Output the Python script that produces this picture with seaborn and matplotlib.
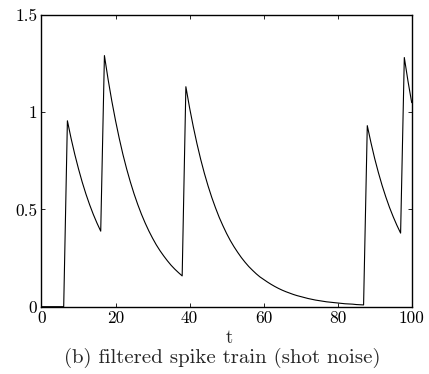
import numpy as np
import pandas as pd
import seaborn as sns
import matplotlib.pyplot as plt

t = list(range(0, 101))
y = [0, 0, 0, 0, 0, 0, 0,
     0.955, 0.864, 0.782, 0.708, 0.640, 0.579, 0.524, 0.474, 0.429, 0.388,
     1.290, 1.167, 1.056, 0.956, 0.865, 0.782, 0.708, 0.641, 0.580, 0.525,
     0.475, 0.430, 0.389, 0.352, 0.318, 0.288, 0.261, 0.236, 0.213, 0.193,
     0.175, 0.158,
     1.130, 1.022, 0.925, 0.837, 0.757, 0.685, 0.620, 0.561, 0.508, 0.459,
     0.416, 0.376, 0.340, 0.308, 0.279, 0.252, 0.228, 0.206, 0.187, 0.169,
     0.153, 0.140, 0.127, 0.115, 0.104, 0.094, 0.085, 0.077, 0.070, 0.063,
     0.057, 0.052, 0.047, 0.042, 0.038, 0.034, 0.031, 0.028, 0.025, 0.023,
     0.021, 0.019, 0.017, 0.015, 0.014, 0.013, 0.011, 0.010, 0.009,
     0.930, 0.842, 0.761, 0.689, 0.623, 0.564, 0.510, 0.462, 0.418, 0.378,
     1.280, 1.158, 1.048]

xticks = [0, 20, 40, 60, 80, 100]
yticks = [0, 0.5, 1, 1.5]
ytick_labels = ["0", "0.5", "1", "1.5"]

df = pd.DataFrame({"t": t, "y": y})

sns.set_style("ticks")
plt.rcParams["font.family"] = ["cmr10", "DejaVu Serif"]
plt.rcParams["mathtext.fontset"] = "cm"
plt.rcParams["axes.formatter.use_mathtext"] = True
plt.rcParams["axes.unicode_minus"] = False

fig = plt.figure(figsize=(4.29, 3.74), dpi=100)
ax = fig.add_axes([0.0967, 0.180, 0.863, 0.7807])

sns.lineplot(data=df, x="t", y="y", ax=ax, color="black", linewidth=0.8)

ax.set_xlim(0, 100)
ax.set_ylim(0, 1.5)
ax.set_xticks(xticks)
ax.set_xticklabels([str(v) for v in xticks])
ax.set_yticks(yticks)
ax.set_yticklabels(ytick_labels)
ax.tick_params(direction="in", top=True, right=True, length=3, width=0.6,
               labelsize=12.5, pad=3, colors="black")
for s in ax.spines.values():
    s.set_visible(True)
    s.set_linewidth(1.0)
    s.set_color("black")

ax.set_xlabel("")
ax.set_ylabel("")
fig.text(0.534, 1 - 338 / 374, "t", ha="center", va="center", fontsize=13.5)
fig.text(0.519, 1 - 358 / 374, "(b) filtered spike train (shot noise)",
         ha="center", va="center", fontsize=15)

fig.savefig("out.png", dpi=100)
